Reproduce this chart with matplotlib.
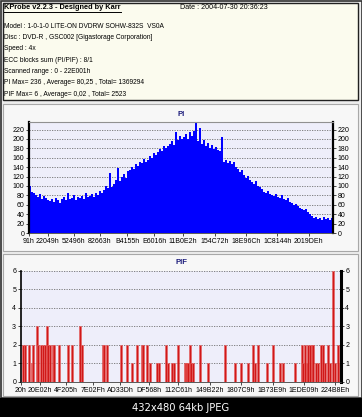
import matplotlib
matplotlib.use("Agg")
import matplotlib.pyplot as plt
from matplotlib.patches import Rectangle
from matplotlib.lines import Line2D

W, H = 362, 417
DPI = 100

# ---------------- data ----------------
header_title = "KProbe v2.2.3 - Designed by Karr"
header_date = "Date : 2004-07-30 20:36:23"
header_lines = [
    "Model : 1-0-1-0 LITE-ON DVDRW SOHW-832S  VS0A",
    "Disc : DVD-R , GSC002 [Gigastorage Corporation]",
    "Speed : 4x",
    "ECC blocks sum (PI/PIF) : 8/1",
    "Scanned range : 0 - 22E001h",
    "PI Max= 236 , Average= 80,25 , Total= 1369294",
    "PIF Max= 6 , Average= 0,02 , Total= 2523",
]
scan_end = 0x22E001

pi_values = [
    100, 88, 86,
    80, 76, 82, 72, 78, 74, 70,
    68, 72, 66, 74, 70, 64, 72,
    76, 70, 84, 72, 74, 80, 70, 76,
    74, 78, 72, 86, 76,
    78, 82, 76,
    84, 80, 90, 86,
    92, 100, 96, 128, 98,
    104, 112, 138, 110,
    120, 126, 118, 132,
    134, 140, 136, 146, 142,
    150, 148, 158, 152, 156,
    164, 160, 170, 166, 172,
    178, 174, 186, 180, 184,
    190, 196, 188, 214, 198, 206, 200,
    204, 210, 200, 214, 206, 216,
    236,
    196, 224, 190, 198,
    186, 192, 180, 188,
    178, 182, 176, 174, 204,
    150, 156, 148,
    154, 146, 150, 140,
    136, 130, 134, 124,
    118, 122, 112, 108,
    104, 110, 100, 98, 94,
    88, 84, 90, 82, 80,
    78, 82, 76, 74, 80,
    72, 70, 74, 66, 64,
    60, 62, 58, 54, 52,
    48, 50, 44, 40,
    36, 32, 34, 30, 32, 28, 34, 30, 32, 28, 32,
]
pi_yticks = [0, 20, 40, 60, 80, 100, 120, 140, 160, 180, 200, 220]
pi_xlabels = ["91h", "22049h", "52496h", "82663h", "B4155h", "E6016h",
              "11B0E2h", "154C72h", "18E96Ch", "1C8144h", "2019DEh"]

pif_lba = [
    14000, 28600, 57200, 76500, 85800, 114400, 121500, 143000, 157300, 171600,
    185900, 193000, 207300, 228800, 235900, 271700, 336000, 364600, 421800, 436100,
    586200, 593400, 614800, 714900, 757800, 793500, 829300, 865000, 872200, 900800,
    922200, 972300, 986600, 1036600, 1050900, 1079500, 1093800, 1122400, 1172400, 1179600,
    1186700, 1193900, 1208200, 1215300, 1229600, 1279700, 1336900, 1458400, 1529900, 1572800,
    1622800, 1658600, 1672900, 1694300, 1758700, 1801500, 1851600, 1873000, 1958800, 2008900,
    2016000, 2030300, 2044600, 2051800, 2066100, 2080400, 2087500, 2108900, 2123300, 2144700,
    2159000, 2173300, 2194800, 2209100, 2230500, 2244800, 2266300, 2280600,
]
pif_values = [
    2, 2, 2, 1, 2, 3, 2, 2, 2, 2,
    3, 2, 2, 2, 2, 2, 2, 2, 3, 2,
    2, 2, 2, 2, 2, 1, 2, 2, 2, 2,
    1, 1, 1, 2, 1, 1, 1, 2, 1, 1,
    1, 1, 2, 1, 1, 2, 1, 2, 1, 1,
    1, 2, 1, 2, 1, 2, 1, 1, 1, 2,
    1, 2, 1, 2, 2, 2, 2, 1, 1, 2,
    2, 1, 2, 1, 6, 1, 2, 1,
]
pif_yticks = [0, 1, 2, 3, 4, 5, 6]
pif_xlabels = ["20h", "20E02h", "4F205h", "7E02Fh", "AD33Dh", "DF568h", "112C61h",
               "149B22h", "1807C9h", "1B73E9h", "1EDE09h", "224B8Eh"]

caption = "432x480 64kb JPEG"

# ---------------- figure ----------------
FONT = ["Liberation Sans", "DejaVu Sans"]
plt.rcParams["font.family"] = FONT
fig = plt.figure(figsize=(W / DPI, H / DPI), dpi=DPI)
fig.patch.set_facecolor("#EDEDED")


def rect(x0, y0, x1, y1):
    return [x0 / W, 1 - y1 / H, (x1 - x0) / W, (y1 - y0) / H]


def fx(x):
    return x / W


def fy(y):
    return 1 - y / H


def add_box(x0, y0, x1, y1, fc, ec, lw=1.0):
    fig.patches.append(Rectangle((fx(x0), fy(y1)), (x1 - x0) / W, (y1 - y0) / H,
                                 transform=fig.transFigure, facecolor=fc,
                                 edgecolor=ec, linewidth=lw, zorder=-10))


# outer frame and panels
add_box(0.5, 0.5, 361.5, 398, "#EDEDED", "#303030", 1.2)
add_box(3, 3, 358, 100, "#FBFBEE", "#202020", 1.0)
add_box(3, 104, 358, 251, "#F7F7F7", "#A8A8A8", 0.8)
add_box(3, 254, 358, 396, "#F7F7F7", "#A8A8A8", 0.8)
add_box(0, 398, 362, 417, "#000000", "#000000", 0)

renderer = fig.canvas.get_renderer()
t = fig.text(fx(4), fy(7.5), header_title, fontsize=5.3, fontweight="bold",
             va="center", ha="left", color="#000000")
bb = t.get_window_extent(renderer)
fig.add_artist(Line2D([bb.x0 / W, bb.x1 / W], [fy(11.5), fy(11.5)],
                      transform=fig.transFigure, color="#000000", lw=0.7))
fig.text(fx(180), fy(7.5), header_date, fontsize=5.1, va="center", ha="left")
for i, line in enumerate(header_lines):
    fig.text(fx(4), fy(26 + i * 11.35), line, fontsize=4.8, va="center", ha="left")

title_kw = dict(fontsize=5.6, fontweight="bold", color="#1A1A7A", ha="center", va="center")
fig.text(fx(181), fy(115), "PI", **title_kw)
fig.text(fx(181), fy(263), "PIF", **title_kw)

fig.text(0.5, fy(408), caption, fontsize=7.2, color="white", ha="center", va="center",
         family=["DejaVu Sans"])

TFS = 5.0
grid_kw = dict(color="#707070", linestyle=(0, (1.5, 1.5)), linewidth=0.6)

# ---------------- PI chart ----------------
ax1 = fig.add_axes(rect(29, 122, 333, 233))
ax1.set_facecolor("#EEEEFA")
n = len(pi_values)
step = scan_end / n
pi_x = [(i + 0.5) * step for i in range(n)]
ax1.bar(pi_x, pi_values, width=step * 1.02, color="#0000FF", linewidth=0, zorder=2)
ax1.set_xlim(0, scan_end)
ax1.set_ylim(0, 236)
ax1.set_yticks(pi_yticks)
ax1.yaxis.grid(True, **grid_kw)
ax1.set_axisbelow(True)
ax1.set_xticks([int(s[:-1], 16) for s in pi_xlabels])
ax1.set_xticklabels(pi_xlabels)
ax1.tick_params(axis="x", labelsize=TFS, length=2, pad=1.5, width=0.5)
ax1.tick_params(axis="y", labelsize=TFS, length=2, pad=1.5, width=0.5,
                left=True, right=True, labelleft=True, labelright=True)
for s in ("left", "right"):
    ax1.spines[s].set_linewidth(1.6)
    ax1.spines[s].set_color("black")
ax1.spines["top"].set_color("#909090")
ax1.spines["top"].set_linewidth(0.8)
ax1.spines["bottom"].set_color("#404040")
ax1.spines["bottom"].set_linewidth(0.6)

# ---------------- PIF chart ----------------
ax2 = fig.add_axes(rect(21, 270.7, 340.5, 381.7))
ax2.set_facecolor("#EEEEFA")
ax2.bar(pif_lba, pif_values, width=scan_end / 220, color="#D01818",
        edgecolor="#E86060", linewidth=0.4, zorder=2)
ax2.set_xlim(0, scan_end)
ax2.set_ylim(0, 6)
ax2.set_yticks(pif_yticks)
ax2.yaxis.grid(True, **grid_kw)
ax2.set_axisbelow(True)
ax2.set_xticks([int(s[:-1], 16) for s in pif_xlabels])
ax2.set_xticklabels(pif_xlabels)
ax2.tick_params(axis="x", labelsize=TFS, length=2, pad=1.5, width=0.5)
ax2.tick_params(axis="y", labelsize=TFS, length=2, pad=1.5, width=0.5,
                left=True, right=True, labelleft=True, labelright=True)
ax2.spines["left"].set_linewidth(1.2)
ax2.spines["right"].set_linewidth(2.2)
ax2.spines["top"].set_visible(False)
ax2.spines["bottom"].set_color("#404040")
ax2.spines["bottom"].set_linewidth(0.6)

fig.savefig("out.png", dpi=DPI, facecolor=fig.get_facecolor())
